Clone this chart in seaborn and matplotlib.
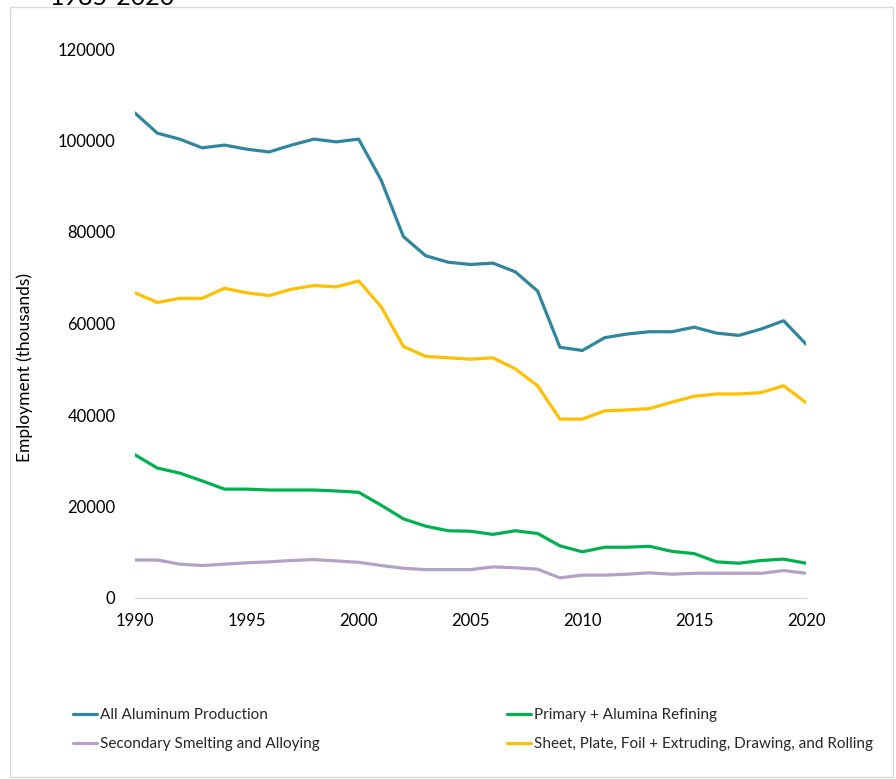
import matplotlib
matplotlib.use("Agg")
import matplotlib.pyplot as plt
import seaborn as sns
import pandas as pd
from matplotlib.patches import Rectangle

years = list(range(1990, 2021))
all_aluminum = [106000, 101600, 100300, 98400, 99000, 98100, 97500, 99000, 100300, 99700, 100300,
                91400, 79000, 74800, 73400, 72900, 73200, 71300, 67100, 54800, 54100,
                56900, 57700, 58200, 58200, 59200, 57900, 57400, 58800, 60600, 55500]
primary = [31300, 28400, 27300, 25600, 23800, 23800, 23600, 23600, 23600, 23400, 23100,
           20300, 17300, 15700, 14700, 14600, 13900, 14700, 14100, 11400, 10100,
           11100, 11100, 11300, 10200, 9700, 7900, 7600, 8200, 8500, 7600]
secondary = [8300, 8300, 7400, 7100, 7400, 7700, 7900, 8200, 8400, 8100, 7800,
             7100, 6500, 6200, 6200, 6200, 6800, 6600, 6300, 4400, 5000,
             5000, 5200, 5500, 5200, 5400, 5400, 5400, 5400, 6000, 5400]
sheet = [66700, 64600, 65500, 65500, 67700, 66700, 66100, 67500, 68300, 68000, 69300,
         63700, 55000, 52800, 52500, 52200, 52500, 50100, 46400, 39100, 39100,
         40900, 41100, 41400, 42800, 44100, 44600, 44600, 44900, 46400, 42700]

series_names = ["All Aluminum Production", "Secondary Smelting and Alloying",
                "Primary + Alumina Refining",
                "Sheet, Plate, Foil + Extruding, Drawing, and Rolling"]
series_values = [all_aluminum, secondary, primary, sheet]
colors = ["#31859C", "#B3A2C7", "#00B050", "#FFC000"]
x_ticks = [1990, 1995, 2000, 2005, 2010, 2015, 2020]
y_ticks = [0, 20000, 40000, 60000, 80000, 100000, 120000]

df = pd.concat([pd.DataFrame({"Year": years, "Value": v, "Series": n})
                for n, v in zip(series_names, series_values)], ignore_index=True)

sns.set_theme(style="white")
plt.rcParams["font.family"] = ["Lato", "DejaVu Sans"]

W, H = 896, 779
fig = plt.figure(figsize=(W / 100, H / 100), dpi=100)
ax = fig.add_axes([135 / W, 1 - 598 / H, (806 - 135) / W, (598 - 49) / H])

sns.lineplot(data=df, x="Year", y="Value", hue="Series", hue_order=series_names,
             palette=colors, linewidth=2.3, ax=ax, legend=True)

ax.set_xlim(1990, 2020)
ax.set_ylim(0, 120000)
ax.set_xticks(x_ticks)
ax.set_xticklabels([str(t) for t in x_ticks])
ax.set_yticks(y_ticks)
ax.set_yticklabels([str(t) for t in y_ticks])
ax.tick_params(axis="x", length=0, pad=11, labelsize=12, colors="#000000")
ax.tick_params(axis="y", length=0, pad=14, labelsize=12, colors="#000000")
for s in ["top", "right", "left"]:
    ax.spines[s].set_visible(False)
ax.spines["bottom"].set_color("#D9D9D9")
ax.spines["bottom"].set_linewidth(1.0)
ax.set_xlabel("")
ax.set_ylabel("")
fig.text(25 / W, 1 - 367 / H, "Employment (thousands)", rotation=90, fontsize=12.5,
         ha="center", va="center", color="#000000")

handles, labels = ax.get_legend_handles_labels()
ax.get_legend().remove()
hmap = dict(zip(labels, handles))

leg_kw = dict(frameon=False, fontsize=11, handlelength=1.6, handletextpad=0.15,
              labelspacing=1.0, borderaxespad=0, borderpad=0)
leg1 = fig.legend([hmap[series_names[0]], hmap[series_names[1]]],
                  [series_names[0], series_names[1]], loc="upper left",
                  bbox_to_anchor=(73 / W, 1 - 708 / H), **leg_kw)
leg2 = fig.legend([hmap[series_names[2]], hmap[series_names[3]]],
                  [series_names[2], series_names[3]], loc="upper left",
                  bbox_to_anchor=(507 / W, 1 - 708 / H), **leg_kw)

fig.patches.append(Rectangle((10 / W, 1 - 777 / H), (893 - 10) / W, (777 - 7) / H,
                             transform=fig.transFigure, fill=False,
                             edgecolor="#D9D9D9", linewidth=1.0))
fig.text(50 / W, 1 - 5 / H, "1985-2020", fontsize=18, va="baseline", ha="left",
         color="#000000")

fig.savefig("out.png", dpi=100, facecolor="white")
